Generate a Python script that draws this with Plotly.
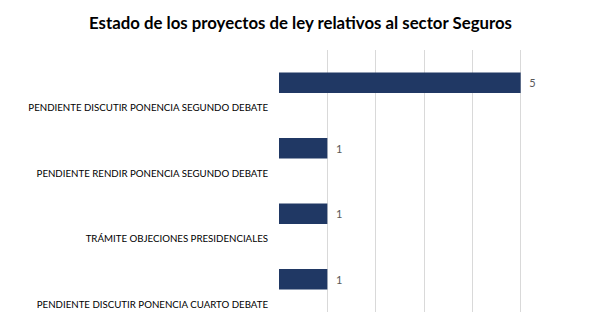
import plotly.graph_objects as go

categories = [
    "PENDIENTE DISCUTIR PONENCIA SEGUNDO DEBATE",
    "PENDIENTE RENDIR PONENCIA SEGUNDO DEBATE",
    "TRÁMITE OBJECIONES PRESIDENCIALES",
    "PENDIENTE DISCUTIR PONENCIA CUARTO DEBATE",
]
values = [5, 1, 1, 1]
x_ticks = [0, 1, 2, 3, 4, 5, 6]
title_text = "Estado de los proyectos de ley relativos al sector Seguros"

fig = go.Figure(
    go.Bar(
        y=categories,
        x=values,
        orientation="h",
        width=0.31,
        marker=dict(color="#203864", line=dict(width=0)),
        text=values,
        texttemplate="\u00a0\u00a0%{x}",
        textposition="outside",
        textfont=dict(family="Lato, Liberation Sans, Arial, sans-serif", size=11, color="#595959"),
        cliponaxis=False,
    )
)

fig.update_layout(
    width=601,
    height=331,
    margin=dict(l=279, r=32, t=50, b=19),
    paper_bgcolor="white",
    plot_bgcolor="white",
    showlegend=False,
    title=dict(
        text="<b>" + title_text + "</b>",
        x=0.5,
        xanchor="center",
        y=1 - 23 / 331,
        yanchor="middle",
        font=dict(family="Lato, Liberation Sans, Arial, sans-serif", size=16.8, color="#000000"),
    ),
    xaxis=dict(
        range=[0, 6],
        tickvals=x_ticks,
        showticklabels=False,
        showgrid=True,
        gridcolor="#d9d9d9",
        gridwidth=1,
        zeroline=False,
        showline=False,
        fixedrange=True,
    ),
    yaxis=dict(
        categoryorder="array",
        categoryarray=categories[::-1],
        showgrid=False,
        zeroline=False,
        showline=False,
        ticks="",
        automargin=False,
        ticklabelshift=25,
        ticklabelstandoff=10,
        tickfont=dict(family="Lato, Liberation Sans, sans-serif", size=9.7, color="#000000"),
        fixedrange=True,
    ),
    bargap=0.69,
)

fig.write_html("out.html")
